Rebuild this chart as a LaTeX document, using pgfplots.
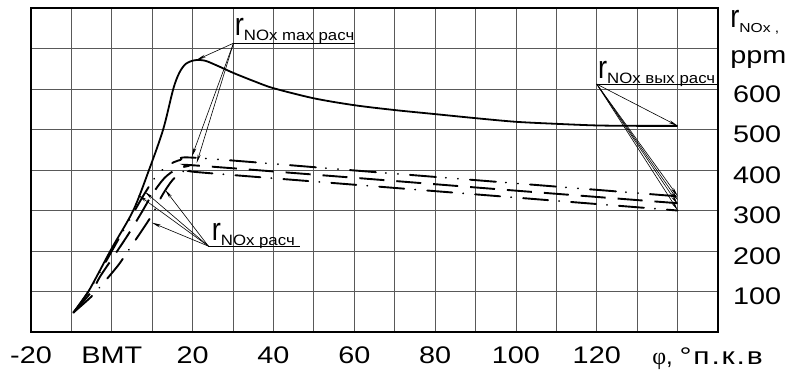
\documentclass[border=0pt]{standalone}
\usepackage{fontspec}
\setmainfont{Liberation Sans}
\newfontfamily\grk{Liberation Serif}
\usepackage{graphicx}
\usepackage{pgfplots}
\pgfplotsset{compat=1.18}
\usetikzlibrary{arrows.meta}
\newcommand{\sx}[1]{\scalebox{1.2}[1]{#1}}
\newcommand{\rr}{\scalebox{0.85}[1]{\fontsize{32}{32}\selectfont r}}
\newcommand{\rlab}[1]{\rr{\fontsize{15}{15}\selectfont\raisebox{-5pt}{\scalebox{1.12}[1]{#1}}}}
\begin{document}
\begin{tikzpicture}
\begin{axis}[name=ax, scale only axis, width=687pt, height=324pt,
 xmin=-20, xmax=150, ymin=0, ymax=800, clip=false,
 xtick={-20,-10,...,150}, ytick={0,100,...,800},
 xticklabels={\sx{-20},,\sx{BMT},,\sx{20},,\sx{40},,\sx{60},,\sx{80},,\sx{100},,\sx{120},,,},
 yticklabels={,\sx{100},\sx{200},\sx{300},\sx{400},\sx{500},\sx{600},,},
 yticklabel pos=right,
 major tick length=0pt,
 grid=major, major grid style={black!65, line width=0.8pt},
 axis line style={line width=2.6pt},
 ticklabel style={font=\fontsize{24}{24}\selectfont, inner sep=0pt},
 xticklabel style={anchor=north, yshift=-15pt},
 yticklabel style={anchor=west, xshift=15pt, yshift=-5pt},
]
% solid
\addplot[black, line width=1.8pt, smooth, tension=0.5] coordinates {
(-9.5,48) (-5.8,100) (0,207) (5.3,300) (9.2,400) (12.7,500) (15.2,600) (16.7,640) (18.3,662) (20.5,671) (23,670) (26,658) (30,640) (35,620) (40,602) (50,577) (60,560) (70,548) (80,538) (90,528) (100,519) (110,514) (120,510) (130,509) (140,509)};
% A dash dot dot
\addplot[black, line width=1.9pt, line cap=round, smooth, tension=0.5, dash pattern=on 26pt off 10pt on 0.1pt off 12pt on 0.1pt off 12pt] coordinates {
(-9.5,48) (-5,112) (0,200) (5,288) (8,340) (11,385) (14,412) (17,425) (21,430) (60,398.9) (100,367) (140,335)};
% B dashed
\addplot[black, line width=1.9pt, smooth, tension=0.5, dash pattern=on 25pt off 12pt] coordinates {
(-9.5,48) (-5,100) (-2.9,137) (0.4,186) (4,240) (7.3,294) (10,340) (13,380) (16,402) (19,410) (21,411) (60,380.8) (100,349) (140,318)};
% C dash dot
\addplot[black, line width=1.9pt, line cap=round, smooth, tension=0.5, dash pattern=on 25pt off 11pt on 0.1pt off 12pt] coordinates {
(-9.5,48) (-5,88) (-2.5,116) (1.6,165) (4,200) (7,244) (10,290) (12.5,338) (15,375) (17.5,396) (20,398) (22,394) (60,363.7) (100,331.9) (140,300)};
% annotations
\node[anchor=base west, inner sep=0pt] at (axis cs:30.4,733) {\rlab{NOx max расч}};
\draw[line width=0.6pt] (axis cs:30.1,713) -- (axis cs:60.2,713);
\draw[line width=0.6pt, -{Stealth[length=9pt,width=3pt]}] (axis cs:30.1,713) -- (axis cs:21,672);
\draw[line width=0.6pt, -{Stealth[length=9pt,width=3pt]}] (axis cs:30.1,713) -- (axis cs:19.8,433);
\draw[line width=0.6pt, -{Stealth[length=9pt,width=3pt]}] (axis cs:30.1,713) -- (axis cs:21,417);

\node[anchor=base west, inner sep=0pt] at (axis cs:24.7,227) {\rlab{NOx расч}};
\draw[line width=0.6pt] (axis cs:23.9,212) -- (axis cs:46.6,212);
\draw[line width=0.6pt, -{Stealth[length=9pt,width=3pt]}] (axis cs:23.9,212) -- (axis cs:6.55,338);
\draw[line width=0.6pt, -{Stealth[length=9pt,width=3pt]}] (axis cs:23.9,212) -- (axis cs:8.2,346);
\draw[line width=0.6pt, -{Stealth[length=9pt,width=3pt]}] (axis cs:23.9,212) -- (axis cs:13.2,351);
\draw[line width=0.6pt, -{Stealth[length=9pt,width=3pt]}] (axis cs:23.9,212) -- (axis cs:9.9,270);

\node[anchor=base west, inner sep=0pt] at (axis cs:120.3,626) {\rlab{NOx вых расч}};
\draw[line width=0.6pt] (axis cs:120,612) -- (axis cs:150,612);
\draw[line width=0.6pt, -{Stealth[length=9pt,width=3pt]}] (axis cs:120,612) -- (axis cs:140,509);
\draw[line width=0.6pt, -{Stealth[length=9pt,width=3pt]}] (axis cs:120,612) -- (axis cs:140,336);
\draw[line width=0.6pt, -{Stealth[length=9pt,width=3pt]}] (axis cs:120,612) -- (axis cs:140,326);
\draw[line width=0.6pt, -{Stealth[length=9pt,width=3pt]}] (axis cs:120,612) -- (axis cs:140,316);
\draw[line width=0.6pt, -{Stealth[length=9pt,width=3pt]}] (axis cs:120,612) -- (axis cs:140,301);

\node[anchor=base west, inner sep=0pt] at (axis cs:153,753) {\rr{\fontsize{13}{13}\selectfont\raisebox{-5pt}{\sx{NOx ,}}}};
\node[anchor=base west, inner sep=0pt] at (axis cs:153,663) {\fontsize{24}{24}\selectfont\sx{ppm}};
\node[anchor=base west, inner sep=0pt] at (axis cs:133.7,-81) {\fontsize{24}{24}\selectfont{\grk φ}, \scalebox{1.25}[1]{°\hspace{1.5pt}п\hspace{1.5pt}.\hspace{1.5pt}к\hspace{1.5pt}.\hspace{1.5pt}в}};
\end{axis}
\pgfresetboundingbox
\path ([xshift=-31pt,yshift=-40pt]ax.south west) rectangle ([xshift=70pt,yshift=8pt]ax.north east);
\end{tikzpicture}
\end{document}
